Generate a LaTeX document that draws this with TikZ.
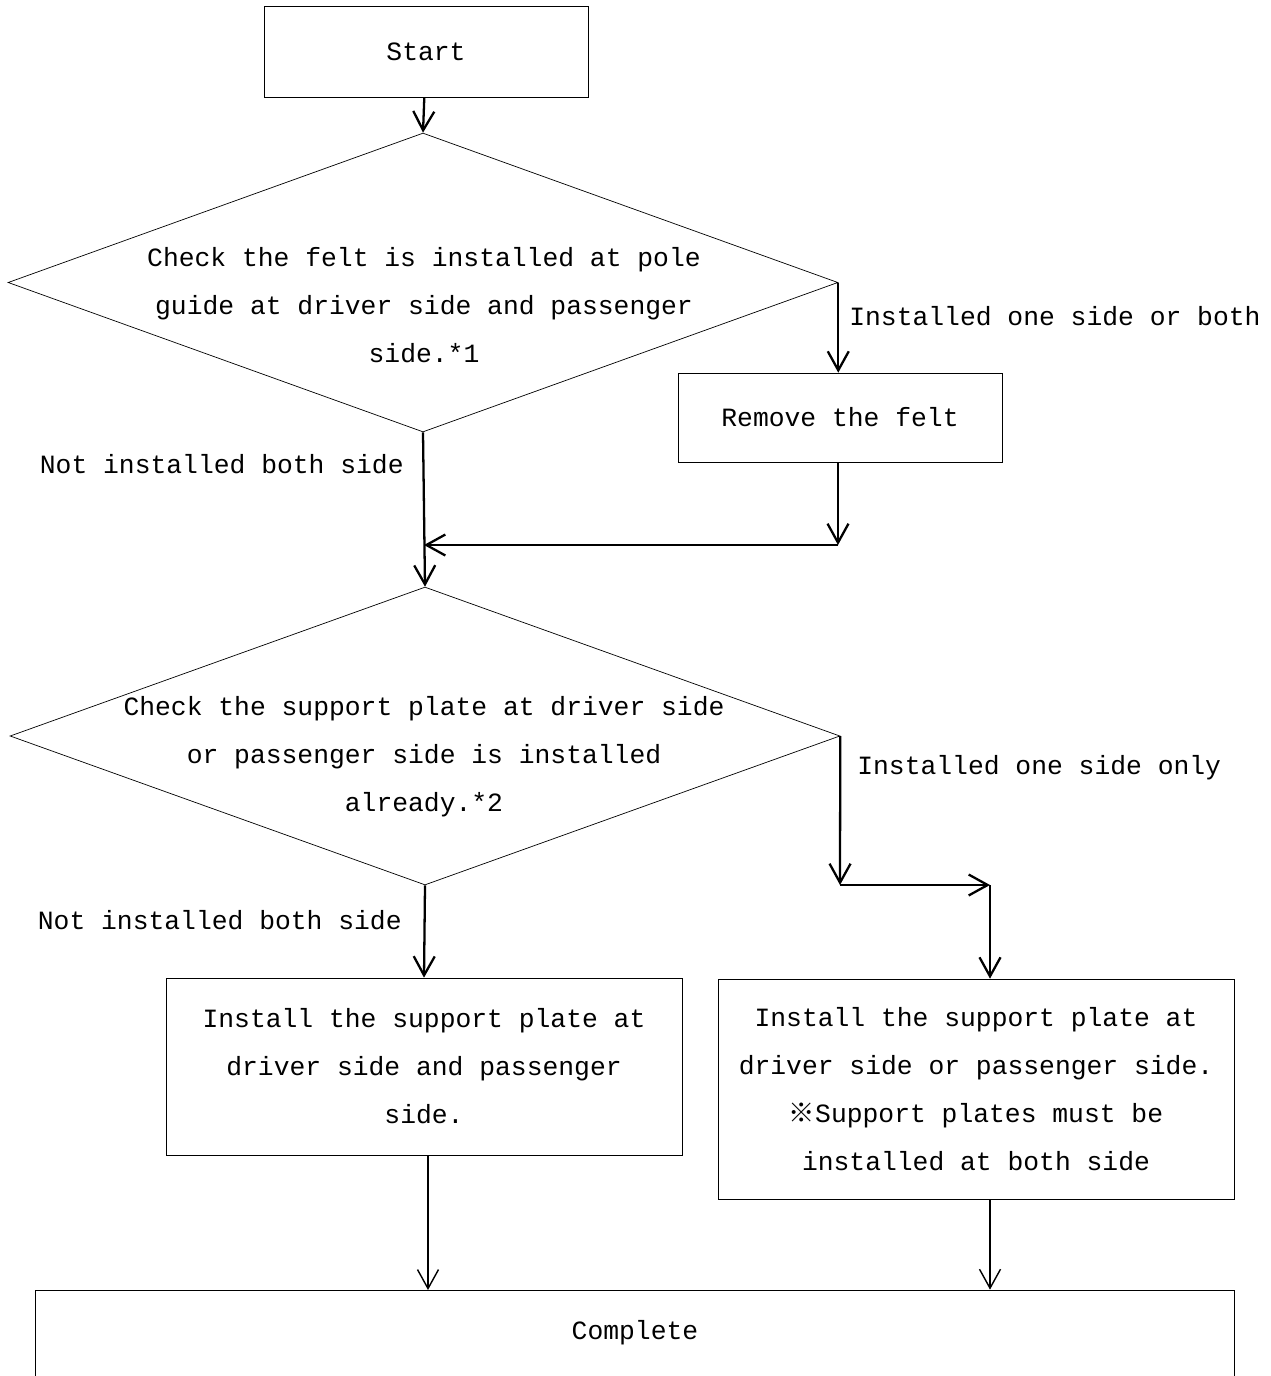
\documentclass[tikz,border=0pt]{standalone}
\usepackage{fontspec}
\setmainfont{Liberation Mono}
\newfontfamily\cjk{Noto Sans CJK JP}
\usetikzlibrary{arrows.meta,shapes.geometric}
\tikzstyle{block} = [rectangle, draw, thin, inner sep=0pt, align=center]
\tikzstyle{decision} = [diamond, draw, thin, inner sep=0pt]
\tikzstyle{txt} = [inner sep=0pt, align=center]

\begin{document}
\begin{tikzpicture}[x=0.02cm,y=-0.02cm,
                    >={Straight Barb[length=0.38cm,width=0.42cm]},
                    font=\fontsize{15pt}{27.3pt}\selectfont,
                    flow/.style={->,line width=1.3pt},
                    thinflow/.style={->,line width=0.8pt}]
  \useasboundingbox (0,0) rectangle (1271,1376);

  \node[block,minimum width=6.48cm,minimum height=1.82cm] (1) at (426,51.5) {Start};
  \node[decision,minimum width=16.6cm,minimum height=5.98cm] (2) at (423,282.5) {};
  \node[txt] (2t) at (424,305) {Check the felt is installed at pole\\
    guide at driver side and passenger\\ side.*1};
  \node[block,minimum width=6.48cm,minimum height=1.78cm] (3) at (840,417.5) {Remove the felt};
  \node[decision,minimum width=16.6cm,minimum height=5.96cm] (4) at (425,736) {};
  \node[txt] (4t) at (424,757) {Check the support plate at driver side\\
    or passenger side is installed\\ already.*2};
  \node[block,minimum width=10.32cm,minimum height=3.54cm] (5) at (424,1066.5)
    {Install the support plate at\\ driver side and passenger\\ side.};
  \node[block,minimum width=10.32cm,minimum height=4.4cm] (6) at (976,1089)
    {Install the support plate at\\ driver side or passenger side.\\
     {\cjk ※}Support plates must be\\ installed at both side};
  \node[block,minimum width=23.98cm,minimum height=2.2cm] (7) at (634.5,1345) {};
  \node[txt] (7t) at (635,1333) {Complete};

  % branch labels
  \node[txt,anchor=west] (l1) at (849,316) {Installed one side or both};
  \node[txt,anchor=east] (l2) at (404,464) {Not installed both side};
  \node[txt,anchor=west] (l3) at (857,768) {Installed one side only};
  \node[txt,anchor=east] (l4) at (402,920) {Not installed both side};

  \coordinate (m1) at (838,545);
  \coordinate (m2) at (424,545);
  \coordinate (c2) at (840,885);
  \coordinate (c3) at (990,885);

  \draw[flow] (1) -- (2.north);
  \draw[flow] (2.east) -- (2.east |- 3.north);
  \draw[flow] (3.south -| m1) -- (m1);
  \draw[flow] (m1) -- (m2);
  \draw[flow] (2.south) -- (4.north);
  \draw[flow] (4.east) -- (c2);
  \draw[flow] (c2) -- (c3);
  \draw[flow] (c3) -- (c3 |- 6.north);
  \draw[flow] (4.south) -- (5.north);
  \draw[thinflow] (5.south) ++(4,0) -- (428,1290);
  \draw[thinflow] (c3 |- 6.south) -- (c3 |- 7.north);
\end{tikzpicture}
\end{document}
